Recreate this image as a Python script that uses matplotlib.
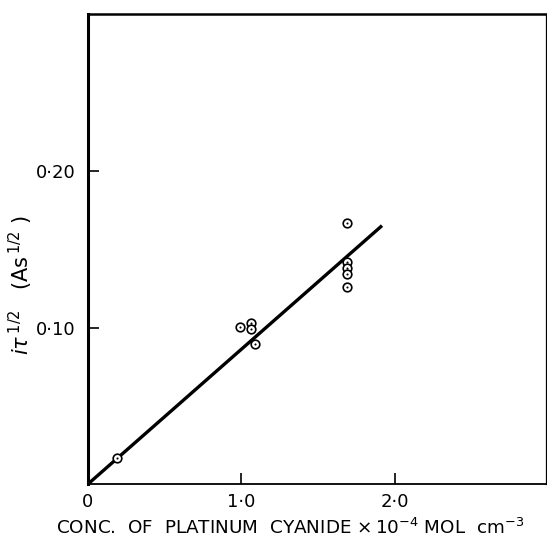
import matplotlib
matplotlib.use("Agg")
import matplotlib.pyplot as plt

# Measured points: concentration (x 10^-4 mol cm^-3) vs i*tau^(1/2) (A s^1/2)
conc = [0.19, 0.99, 1.06, 1.06, 1.09, 1.69, 1.69, 1.69, 1.69, 1.69]
itau = [0.0166, 0.1006, 0.1028, 0.0992, 0.0894, 0.1667, 0.1415, 0.1379, 0.1343, 0.1258]

# Straight line through the origin
fit_conc = [0.0, 1.915]
fit_itau = [0.0, 0.165]

x_ticks = [0.0, 1.0, 2.0]
x_tick_labels = ["0", "1·0", "2·0"]
y_ticks = [0.10, 0.20]
y_tick_labels = ["0·10", "0·20"]

plt.rcParams["font.family"] = ["DejaVu Sans"]
plt.rcParams["mathtext.fontset"] = "dejavusans"

W, H = 547, 542
fig = plt.figure(figsize=(W / 100, H / 100), dpi=100)
ax = fig.add_axes([87.7 / W, 1 - 484.3 / H, (545.7 - 87.7) / W, (484.3 - 14) / H])

ax.plot(fit_conc, fit_itau, color="black", lw=2.4, solid_capstyle="butt", zorder=2)
ax.plot(conc, itau, linestyle="none", marker="o", ms=6.2, mfc="white",
        mec="black", mew=1.2, zorder=3)
ax.plot(conc, itau, linestyle="none", marker="o", ms=1.5, mfc="black",
        mec="black", mew=0, zorder=4)

ax.set_xlim(0, 2.98)
ax.set_ylim(0, 0.300)

ax.set_xticks(x_ticks)
ax.set_xticklabels(x_tick_labels)
ax.set_yticks(y_ticks)
ax.set_yticklabels(y_tick_labels)
ax.tick_params(axis="both", direction="in", length=8, width=1.2,
               labelsize=13, colors="black")
ax.tick_params(axis="x", pad=6)
ax.tick_params(axis="y", pad=9)

ax.spines["left"].set_linewidth(2.2)
ax.spines["bottom"].set_linewidth(1.3)
ax.spines["top"].set_linewidth(1.8)
ax.spines["right"].set_linewidth(0.9)

fig.text(0.5 * (57 + 523) / W, 1 - 528 / H,
         "CONC.  OF  PLATINUM  CYANIDE $\\times\\,10^{-4}$ MOL  cm$^{-3}$",
         ha="center", va="center", fontsize=13.2)

fig.text(21 / W, 1 - 285 / H,
         "$i\\tau^{\\,1/2}$   $(\\mathrm{As}^{\\,1/2}\\ )$",
         ha="center", va="center", rotation=90, fontsize=15)

fig.savefig("out.png", dpi=100, facecolor="white")
